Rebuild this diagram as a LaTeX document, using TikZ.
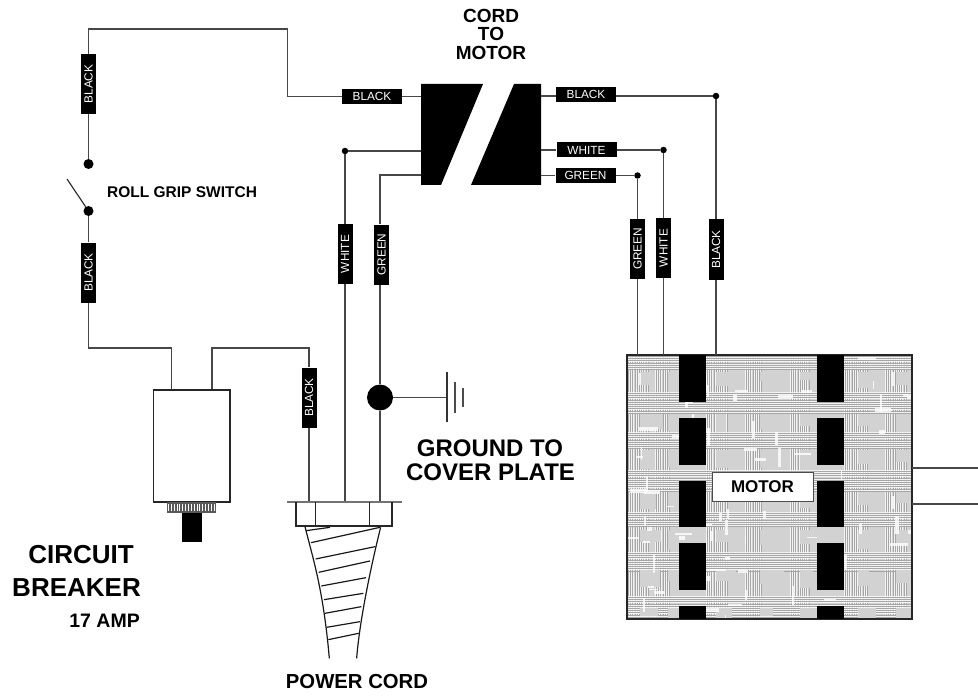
\documentclass[tikz,border=0pt]{standalone}
\usepackage{fontspec}
\setmainfont{Liberation Sans}
\tikzset{
  wire/.style={line width=1.1pt,draw=black!72},
  tagh/.style={fill=black,text=white,inner sep=0pt,minimum width=60pt,minimum height=15pt,font=\fontsize{11.8}{12}\selectfont},
  tagv/.style={tagh,rotate=90},
  jdot/.style={circle,fill=black,inner sep=0pt,minimum size=10pt},
  smalldot/.style={circle,fill=black,inner sep=0pt,minimum size=6.5pt},
  bigdot/.style={circle,fill=black,inner sep=0pt,minimum size=26pt},
  bar/.style={fill=black},
  outline/.style={line width=1.2pt,draw=black!85},
  titlebf/.style={font=\fontsize{#1}{#1}\selectfont\bfseries,text=black,inner sep=0pt,align=center},
  thinline/.style={line width=1.1pt,draw=black!85}
}
\definecolor{motorbase}{HTML}{D2D2D2}
\begin{document}
\begin{tikzpicture}[x=1pt,y=-1pt]
\useasboundingbox (0,0) rectangle (978,698);

% motor body with mottled screen
\begin{scope}
\clip (627,355) rectangle (912,619);
\fill[motorbase] (627,355) rectangle (912,619);
\pgfmathsetseed{23}
% fine mesh, vertical bands
\foreach \bx/\nn in {627/9,655/6,706/9,745/7,790/8,844/10,885/9}{
  \foreach \k in {0,...,\nn}{
    \pgfmathsetmacro{\xx}{\bx+\k*2.2}
    \draw[white,line width=.5pt,opacity=.75] (\xx,355) -- (\xx,619);
    \draw[black!35,line width=.2pt] (\xx+1.1,355) -- (\xx+1.1,619);
  }
}
% fine mesh, horizontal bands
\foreach \by/\nn in {355/6,392/9,432/7,470/9,512/6,552/8,596/10}{
  \foreach \k in {0,...,\nn}{
    \pgfmathsetmacro{\yy}{\by+\k*2.2}
    \draw[white,line width=.5pt,opacity=.75] (627,\yy) -- (912,\yy);
    \draw[black!35,line width=.2pt] (627,\yy+1.1) -- (912,\yy+1.1);
  }
}
% solid grey patches
\foreach \px in {640,668,716,760,800,858,896}{
  \foreach \py in {372,414,450,492,530,570,608}{
    \pgfmathsetmacro{\wa}{10+rnd*14}
    \pgfmathsetmacro{\ha}{8+rnd*12}
    \fill[motorbase] (\px,\py) rectangle (\px+\wa,\py+\ha);
  }
}
% pale mottling
\foreach \k in {1,...,40}{
  \pgfmathsetmacro{\xa}{627+rnd*285}
  \pgfmathsetmacro{\ya}{355+rnd*264}
  \pgfmathsetmacro{\la}{5+rnd*14}
  \pgfmathsetmacro{\wa}{1+rnd*3}
  \draw[white,line width=\wa pt,opacity=.8] (\xa,\ya) -- (\xa,\ya+\la);
  \pgfmathsetmacro{\xb}{627+rnd*285}
  \pgfmathsetmacro{\yb}{355+rnd*264}
  \pgfmathsetmacro{\lb}{5+rnd*14}
  \pgfmathsetmacro{\wb}{1+rnd*3}
  \draw[white,line width=\wb pt,opacity=.8] (\xb,\yb) -- (\xb+\lb,\yb);
}
\end{scope}
\draw[outline] (627,355) rectangle (912,619);
\foreach \ya/\yb in {355/402,418/465,481/527,543/590,606/619}{
  \fill[bar] (679,\ya) rectangle (706,\yb);
  \fill[bar] (817,\ya) rectangle (844,\yb);
}
\node[draw=black!70,line width=1pt,fill=white,minimum width=101pt,minimum height=29pt,inner sep=0pt,font=\fontsize{17}{17}\selectfont\bfseries] (motor) at (762.5,487) {MOTOR};

% connector blocks
\fill[bar] (421,84) -- (483,84) -- (441,185) -- (421,185) -- cycle;
\fill[bar] (514,84) -- (541,84) -- (541,185) -- (471,185) -- cycle;
\coordinate (cl1) at (421,96.5);
\coordinate (cl2) at (421,151);
\coordinate (cl3) at (421,175);
\coordinate (cr1) at (541,96);
\coordinate (cr2) at (541,150);
\coordinate (cr3) at (541,175.5);

% tags
\node[tagh] (tB1) at (372,96.5) {BLACK};
\node[tagh] (tB2) at (586,94.5) {BLACK};
\node[tagh] (tW2) at (586.5,150) {WHITE};
\node[tagh] (tG2) at (585.5,175.5) {GREEN};
\node[tagv] (vW1) at (345,254) {WHITE};
\node[tagv] (vG1) at (381.5,254.5) {GREEN};
\node[tagv] (vG2) at (637.5,249) {GREEN};
\node[tagv] (vW2) at (663.5,248) {WHITE};
\node[tagv] (vB3) at (716,249.5) {BLACK};
\node[tagv] (vBa) at (88.5,84) {BLACK};
\node[tagv] (vBb) at (88.5,272.5) {BLACK};
\node[tagv] (vBc) at (309,397.5) {BLACK};

% dots
\node[smalldot] (dB) at (716,96) {};
\node[smalldot] (dW) at (663.5,150) {};
\node[smalldot] (dG) at (637.5,175.5) {};
\node[smalldot] (dL) at (345,151) {};
\node[jdot] (s1) at (88.5,164) {};
\node[jdot] (s2) at (88.5,211) {};
\node[bigdot] (gd) at (380,397.5) {};

% named bends and ends
\coordinate (a1) at (88.5,29);
\coordinate (a2) at (287.5,29);
\coordinate (a3) at (287.5,96.5);
\coordinate (mB) at (716,355);
\coordinate (mW) at (663.5,355);
\coordinate (mG) at (637.5,355);
\coordinate (fW) at (345,502);
\coordinate (fG) at (380,502);
\coordinate (fB) at (309,502);
\coordinate (cbL) at (171.5,390);
\coordinate (cbR) at (212,390);
\coordinate (n1) at (88.5,348);
\coordinate (n2) at (171.5,348);
\coordinate (n3) at (212,348);
\coordinate (n4) at (309,348);
\coordinate (mo1) at (912,468);
\coordinate (mo2) at (912,504);
\coordinate (oe1) at (978,468);
\coordinate (oe2) at (978,504);
\coordinate (swa) at (67,179);
\coordinate (g1) at (447,397.5);
\coordinate (gb) at (380,175);

% wires
\draw[wire] (vBa.east) -- (a1) -- (a2) -- (a3) -- (tB1.west);
\draw[wire] (tB1.east) -- (cl1);
\draw[wire] (cr1) -- (tB2.west |- cr1);
\draw[wire] (tB2.east |- dB) -- (dB);
\draw[wire] (dB) -- (vB3.east);
\draw[wire] (vB3.west) -- (mB);
\draw[wire] (cr2) -- (tW2.west);
\draw[wire] (tW2.east) -- (dW);
\draw[wire] (dW) -- (vW2.east);
\draw[wire] (vW2.west) -- (mW);
\draw[wire] (cr3) -- (tG2.west);
\draw[wire] (tG2.east) -- (dG);
\draw[wire] (dG) -- (vG2.east);
\draw[wire] (vG2.west) -- (mG);
\draw[wire] (cl2) -- (dL);
\draw[wire] (dL) -- (vW1.east);
\draw[wire] (vW1.west) -- (fW);
\draw[wire] (cl3) -- (cl3 -| gb) -- (gb |- vG1.east);
\draw[wire] (gb |- vG1.west) -- (gd);
\draw[wire] (gd) -- (fG);
\draw[wire] (vBa.west) -- (s1);
\draw[wire] (s2) -- (vBb.east);
\draw[wire] (vBb.west) -- (n1) -- (n2) -- (cbL);
\draw[wire] (cbR) -- (n3) -- (n4) -- (vBc.east);
\draw[wire] (vBc.west) -- (fB);
\draw[thinline] (swa) -- (s2);
\draw[wire] (gd) -- (g1);
\draw[wire] (mo1) -- (oe1);
\draw[wire] (mo2) -- (oe2);

% ground symbol
\draw[line width=1.7pt,draw=black!80] (447,372) -- (447,422);
\draw[line width=1.7pt,draw=black!70] (455,382) -- (455,413);
\draw[line width=1.7pt,draw=black!70] (463,388) -- (463,407);

% circuit breaker
\draw[outline] (153.5,390) rectangle (230,502);
\fill[black!65] (167,502) rectangle (216,513);
\foreach \k in {0,...,16}{
  \draw[white,line width=.9pt] ({168.5+\k*2.85},504) -- ({168.5+\k*2.85},511);
}
\fill[bar] (182,513) rectangle (202,542);

% flange and cord
\draw[line width=1.1pt,draw=black!55] (287,502) -- (402,502);
\draw[outline] (296,502) -- (296,526) -- (392,526) -- (392,502);
\draw[outline] (315.5,502) -- (315.5,526);
\draw[outline] (369.5,502) -- (369.5,526);
\begin{scope}[shift={(280,490)},x=.3333pt,y=-.3333pt,line width=1.2pt,draw=black!90]
\draw (75,110) .. controls (100,210) and (130,300) .. (148,505);
\draw (302,112) .. controls (270,240) and (238,400) .. (230,505);
\draw (78,122) -- (150,112);
\draw (93,158) -- (300,112);
\draw (107,207) -- (285,170);
\draw (116,247) -- (270,213);
\draw (124,288) -- (258,263);
\draw (132,329) -- (250,310);
\draw (135,370) -- (244,350);
\draw (140,412) -- (240,395);
\draw (145,449) -- (236,430);
\end{scope}

% titles
\node[titlebf=19] (tc1) at (491,15.5) {CORD};
\node[titlebf=19] (tc2) at (491,34) {TO};
\node[titlebf=19] (tc3) at (491,53) {MOTOR};
\node[titlebf=15.5,anchor=west] (trg) at (107,192) {ROLL GRIP SWITCH};
\node[titlebf=24] (tg1) at (490,448) {GROUND TO};
\node[titlebf=24] (tg2) at (490.5,472) {COVER PLATE};
\node[titlebf=26,anchor=east] (tcb1) at (134,555) {CIRCUIT};
\node[titlebf=26,anchor=east] (tcb2) at (141,588) {BREAKER};
\node[titlebf=19.5,anchor=east] (tcb3) at (140,621) {17 AMP};
\node[titlebf=20.3] (tpc) at (357,682) {POWER CORD};
\end{tikzpicture}
\end{document}
